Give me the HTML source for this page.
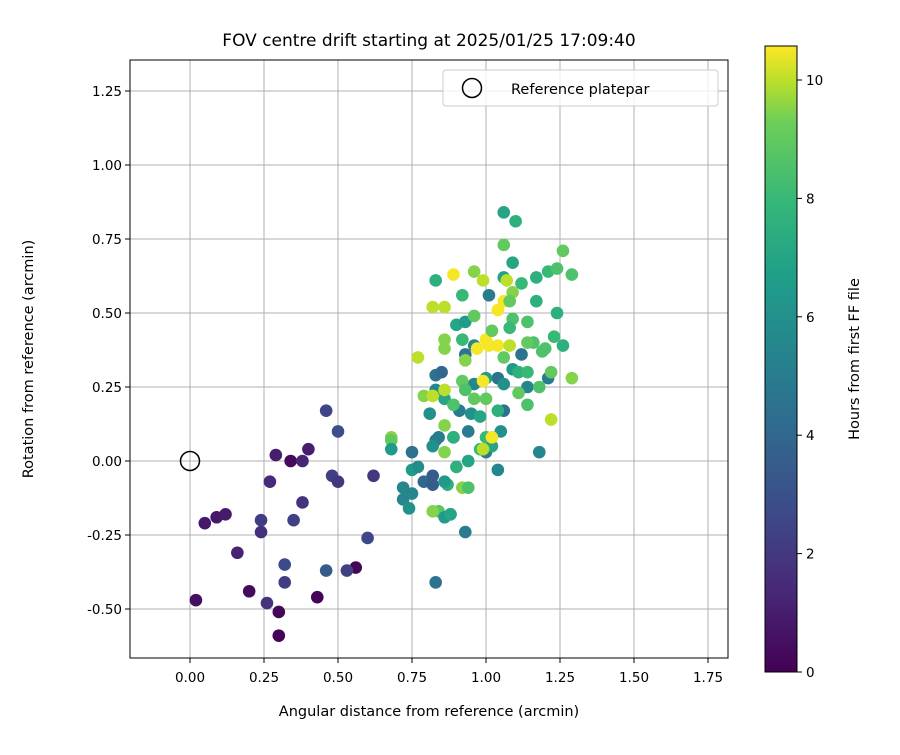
<!DOCTYPE html>
<html><head><meta charset="utf-8"><style>
body{margin:0;background:#fff;font-family:"Liberation Sans","DejaVu Sans",sans-serif}
svg text{font-family:"DejaVu Sans","Liberation Sans",sans-serif;fill:#000}
</style></head><body>
<svg id="chart" width="900" height="750" xmlns="http://www.w3.org/2000/svg">
<defs><linearGradient id="vir" x1="0" y1="1" x2="0" y2="0">
<stop offset="0" stop-color="#440154"/><stop offset="0.13" stop-color="#482878"/><stop offset="0.25" stop-color="#3e4989"/><stop offset="0.38" stop-color="#31688e"/><stop offset="0.5" stop-color="#26828e"/><stop offset="0.63" stop-color="#1f9e89"/><stop offset="0.75" stop-color="#35b779"/><stop offset="0.88" stop-color="#6ece58"/><stop offset="0.94" stop-color="#b5de2b"/><stop offset="1" stop-color="#fde725"/></linearGradient></defs>
<text x="429" y="46" font-size="17px" text-anchor="middle">FOV centre drift starting at 2025/01/25 17:09:40</text>
<g id="grid"></g>
<rect x="130" y="60" width="598" height="598" fill="none" stroke="#000" stroke-width="1"/>
<g id="ticks"></g>
<g id="points"></g>
<circle cx="190" cy="461" r="9.5" fill="none" stroke="#000" stroke-width="1.5"/>
<g>
<rect x="443" y="70" width="275" height="36" rx="3" fill="#fff" fill-opacity="0.8" stroke="#ccc"/>
<circle cx="472" cy="88" r="9.5" fill="none" stroke="#000" stroke-width="1.5"/>
<text x="511" y="94" font-size="14.5px">Reference platepar</text>
</g>
<text x="429" y="716" font-size="14.5px" text-anchor="middle">Angular distance from reference (arcmin)</text>
<text transform="translate(33,359) rotate(-90)" font-size="14.5px" text-anchor="middle">Rotation from reference (arcmin)</text>
<rect x="765" y="46" width="32" height="626" fill="url(#vir)" stroke="#000" stroke-width="1"/>
<g id="cbticks"></g>
<text transform="translate(859,359) rotate(-90)" font-size="14.5px" text-anchor="middle">Hours from first FF file</text>
</svg>
<script>
const xTicks=[0,0.25,0.5,0.75,1.0,1.25,1.5,1.75];
const yTicks=[-0.5,-0.25,0,0.25,0.5,0.75,1.0,1.25];
const cTicks=[0,2,4,6,8,10];
const xs=[0.02,0.05,0.09,0.12,0.16,0.20,0.30,0.30,0.43,0.56,0.34,0.29,0.38,0.40,0.38,0.27,0.24,0.24,0.26,0.35,0.32,0.32,0.46,0.50,0.48,0.50,0.46,0.53,0.62,0.60,
0.75,0.72,0.72,0.74,0.75,0.77,0.79,0.82,0.82,0.83,0.84,0.86,0.88,0.93,0.83,0.84,0.81,0.83,0.85,0.83,0.86,0.89,0.91,0.94,0.95,0.96,1.00,1.04,1.05,1.01,1.04,1.06,1.18,1.21,1.14,1.12,0.93,0.96,1.00,1.06,1.09,1.11,
1.06,1.10,1.09,1.06,0.83,0.92,0.90,0.93,1.06,1.21,1.24,1.26,1.29,1.17,1.12,1.24,1.17,1.26,1.23,1.20,1.19,1.22,1.22,1.29,1.18,1.14,1.04,0.98,1.00,1.02,0.98,0.89,0.90,0.82,0.92,0.94,0.87,0.86,0.75,0.88,
0.77,0.82,0.86,0.89,0.96,0.99,1.04,1.06,1.07,1.09,1.08,0.86,0.86,0.96,1.00,1.01,1.04,1.08,0.97,0.99,1.02,0.99,0.86,0.79,0.82,0.86,0.86,0.68,0.68,0.92,0.93,1.02,1.09,1.14,1.16,0.93,1.06,1.14,0.96,1.00,1.11,1.14,1.08,0.92,0.89,0.82,0.94,0.68];
const ys=[-0.47,-0.21,-0.19,-0.18,-0.31,-0.44,-0.51,-0.59,-0.46,-0.36,0.00,0.02,0.00,0.04,-0.14,-0.07,-0.24,-0.20,-0.48,-0.20,-0.35,-0.41,0.17,0.10,-0.05,-0.07,-0.37,-0.37,-0.05,-0.26,
0.03,-0.09,-0.13,-0.16,-0.03,-0.02,-0.07,-0.05,-0.08,-0.41,-0.17,-0.19,-0.18,-0.24,0.07,0.08,0.16,0.29,0.30,0.24,0.21,0.08,0.17,0.10,0.16,0.26,0.03,-0.03,0.10,0.56,0.28,0.17,0.03,0.28,0.25,0.36,0.36,0.39,0.28,0.26,0.31,0.30,
0.84,0.81,0.67,0.73,0.61,0.56,0.46,0.47,0.62,0.64,0.65,0.71,0.63,0.62,0.60,0.50,0.54,0.39,0.42,0.38,0.37,0.30,0.14,0.28,0.25,0.19,0.17,0.15,0.08,0.05,0.04,0.08,-0.02,-0.17,-0.09,-0.09,-0.08,-0.07,-0.11,-0.18,
0.35,0.52,0.52,0.63,0.64,0.61,0.51,0.54,0.61,0.57,0.54,0.41,0.38,0.49,0.41,0.39,0.39,0.39,0.38,0.27,0.08,0.04,0.24,0.22,0.22,0.12,0.03,0.08,0.07,0.27,0.24,0.44,0.48,0.47,0.40,0.34,0.35,0.40,0.21,0.21,0.23,0.30,0.45,0.41,0.19,0.05,0.00,0.04];
const hrs=[0.5,0.8,0.8,0.9,1.2,0.3,0.2,0.1,0.1,0.2,0.3,1.0,1.3,1.0,1.8,1.5,1.7,2.2,1.8,2.3,2.7,2.2,2.5,2.8,2.3,2.0,3.5,2.3,2.0,2.5,
4.5,5.5,5.5,6,6.5,5.8,4,3.5,3.5,4.5,8.8,6.5,6,5,5,5,6,4.5,4,5.5,7,4.5,5,5,6,5.5,5,5.5,6,5,4.5,4.5,5.5,5,5.5,4.5,4.5,5.5,6.5,6,6.5,7.5,
7,7.5,7,9,7.5,8,7,6.5,6.8,8,8.5,9,8.5,7.5,8,7.5,7.5,7.5,8,8.5,8.5,9,10,9.5,8.5,8.5,7.5,7,8,7,8,7.5,7.5,9.5,9.5,8.5,7.5,6.5,5.5,7,
10,10,10,10.5,9.5,10,10.5,10.5,10,9.5,9,9.5,9.5,9,10.5,10.5,10.5,10,10.5,10.5,10.5,10,10,9.5,10,9.5,9.5,9.5,9,9,8.5,9,8.5,8.5,8.5,9.5,9,9,9,9,9,8,8,8,8.5,6,7,6.5];
const X0=190,Y0=461,S=296;
const sx=v=>X0+v*S, sy=v=>Y0-v*S;
const cy=h=>672-h*59.2;
const NS="http://www.w3.org/2000/svg";
const stops=[[0,[68,1,84]],[0.13,[72,40,120]],[0.25,[62,73,137]],[0.38,[49,104,142]],[0.5,[38,130,142]],[0.63,[31,158,137]],[0.75,[53,183,121]],[0.88,[110,206,88]],[0.94,[181,222,43]],[1,[253,231,37]]];
function vir(t){t=Math.max(0,Math.min(1,t));for(let i=1;i<stops.length;i++){if(t<=stops[i][0]){const a=stops[i-1],b=stops[i],f=(t-a[0])/(b[0]-a[0]);const c=a[1].map((v,k)=>Math.round(v+(b[1][k]-v)*f));return `rgb(${c})`;}}return 'rgb(253,231,37)';}
function mk(tag,attrs,parent){const e=document.createElementNS(NS,tag);for(const k in attrs)e.setAttribute(k,attrs[k]);parent.appendChild(e);return e;}
const grid=document.getElementById('grid'),ticks=document.getElementById('ticks'),pts=document.getElementById('points'),cb=document.getElementById('cbticks');
xTicks.forEach(v=>{const x=sx(v);
const g=mk('line',{x1:x,x2:x,y1:60,y2:658,stroke:'#b0b0b0','stroke-width':1},grid);


mk('line',{x1:x,x2:x,y1:658,y2:663,stroke:'#000'},ticks);
const t=mk('text',{x:x,y:682,'font-size':'13.5px','text-anchor':'middle'},ticks);t.textContent=v.toFixed(2);

});
yTicks.forEach(v=>{const y=sy(v);
const g=mk('line',{x1:130,x2:728,y1:y,y2:y,stroke:'#b0b0b0','stroke-width':1},grid);


mk('line',{x1:125,x2:130,y1:y,y2:y,stroke:'#000'},ticks);
const t=mk('text',{x:122,y:y+5,'font-size':'13.5px','text-anchor':'end'},ticks);t.textContent=v.toFixed(2);

});
xs.forEach((v,i)=>{const c=mk('circle',{cx:sx(v),cy:sy(ys[i]),r:6.3,fill:vir(hrs[i]/10.57)},pts);

});
cTicks.forEach(v=>{const y=cy(v);
mk('line',{x1:797,x2:802,y1:y,y2:y,stroke:'#000'},cb);
const t=mk('text',{x:806,y:y+5,'font-size':'13.5px'},cb);t.textContent=v;

});
</script>
</body></html>
